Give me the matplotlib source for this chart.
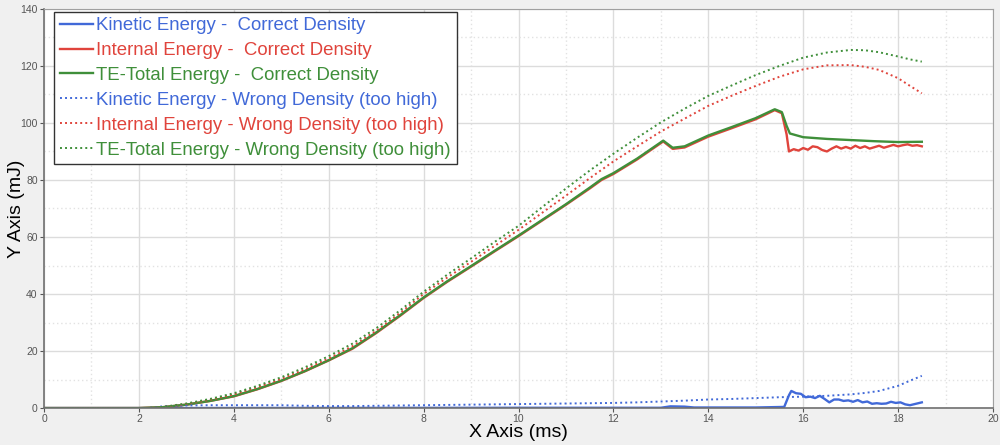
import matplotlib

matplotlib.use("Agg")
import matplotlib.pyplot as plt
from matplotlib.ticker import MultipleLocator


# Correct density, solid lines
t_total = [0.0, 2.0, 2.5, 3.0, 3.5, 4.0, 4.5, 5.0, 5.5, 6.0, 6.5, 7.0, 7.5, 8.0,
           8.5, 9.0, 9.5, 10.0, 10.5, 11.0, 11.5, 11.75, 12.0, 12.5, 13.05, 13.25,
           13.5, 14.0, 14.5, 15.0, 15.4, 15.55, 15.65, 15.72, 16.0, 16.5, 17.0,
           17.5, 18.0, 18.5]
total_correct = [0.0, 0.0, 0.3, 1.2, 2.5, 4.2, 6.7, 9.6, 13.0, 16.8, 21.0, 26.5,
                 32.5, 38.8, 44.5, 49.8, 55.2, 60.5, 66.0, 71.5, 77.3, 80.3, 82.4,
                 87.5, 93.8, 91.3, 91.8, 95.6, 98.6, 101.7, 104.8, 103.8, 99.0,
                 96.3, 95.0, 94.4, 94.0, 93.6, 93.3, 93.4]

t_internal = [0.0, 2.0, 2.5, 3.0, 3.5, 4.0, 4.5, 5.0, 5.5, 6.0, 6.5, 7.0, 7.5, 8.0,
              8.5, 9.0, 9.5, 10.0, 10.5, 11.0, 11.5, 11.75, 12.0, 12.5, 13.05, 13.25,
              13.5, 14.0, 14.5, 15.0, 15.4, 15.55, 15.65, 15.7, 15.8, 15.9, 16.0,
              16.1, 16.2, 16.3, 16.4, 16.5, 16.6, 16.7, 16.8, 16.9, 17.0, 17.1, 17.2,
              17.3, 17.4, 17.5, 17.6, 17.7, 17.8, 17.9, 18.0, 18.1, 18.2, 18.3, 18.4,
              18.5]
internal_correct = [0.0, 0.0, 0.3, 1.2, 2.5, 4.1, 6.6, 9.5, 12.9, 16.7, 20.8, 26.3,
                    32.3, 38.6, 44.3, 49.6, 55.0, 60.3, 65.8, 71.3, 77.0, 80.0, 82.1,
                    87.2, 93.5, 90.9, 91.4, 95.2, 98.2, 101.3, 104.5, 103.4, 96.0,
                    90.0, 90.8, 90.3, 91.2, 90.6, 91.8, 91.5, 90.5, 90.0, 91.0, 91.8,
                    91.0, 91.6, 91.0, 92.0, 91.2, 91.8, 91.0, 91.5, 92.0, 91.3, 91.8,
                    92.3, 91.8, 92.2, 92.5, 92.0, 92.2, 91.8]

t_kinetic = [0.0, 2.0, 10.0, 13.0, 13.2, 13.5, 13.7, 15.0, 15.6, 15.7, 15.75, 15.85,
             15.95, 16.05, 16.15, 16.25, 16.35, 16.45, 16.55, 16.65, 16.75, 16.85,
             16.95, 17.05, 17.15, 17.25, 17.35, 17.45, 17.55, 17.65, 17.75, 17.85,
             17.95, 18.05, 18.15, 18.25, 18.35, 18.5]
kinetic_correct = [0.0, 0.0, 0.1, 0.1, 0.6, 0.5, 0.2, 0.2, 0.4, 4.5, 6.0, 5.2, 5.0,
                   3.8, 4.0, 3.5, 4.3, 3.2, 2.0, 3.0, 3.0, 2.5, 2.7, 2.2, 2.8, 2.0,
                   2.3, 1.5, 1.7, 1.5, 1.6, 2.2, 1.8, 2.0, 1.3, 1.0, 1.4, 2.0]

# Wrong density (too high), dotted lines
t_wrong = [0.0, 2.2, 2.5, 3.0, 3.5, 4.0, 4.5, 5.0, 5.5, 6.0, 6.5, 7.0, 7.5, 8.0, 8.5,
           9.0, 9.5, 10.0, 10.5, 11.0, 11.5, 12.0, 12.5, 13.0, 13.5, 14.0, 14.5, 15.0,
           15.5, 16.0, 16.5, 17.0, 17.3, 17.6, 18.0, 18.25, 18.5]
total_wrong = [0.0, 0.0, 0.4, 1.6, 3.2, 5.2, 7.8, 10.8, 14.3, 18.2, 22.6, 28.0, 34.2,
               40.8, 46.8, 52.5, 58.3, 63.9, 70.5, 77.0, 83.3, 89.2, 94.8, 100.2,
               105.0, 109.5, 113.2, 116.8, 120.0, 122.9, 124.7, 125.6, 125.5, 124.8,
               123.3, 122.3, 121.5]
internal_wrong = [0.0, 0.0, 0.3, 1.4, 2.9, 4.8, 7.3, 10.2, 13.6, 17.4, 21.7, 27.1,
                  33.3, 40.0, 45.8, 51.3, 56.9, 62.5, 68.5, 74.5, 80.6, 86.5, 91.8,
                  97.0, 101.5, 106.0, 109.6, 113.0, 116.2, 118.8, 120.2, 120.3, 119.7,
                  118.6, 115.7, 113.0, 110.4]
kinetic_wrong = [0.0, 0.0, 0.6, 0.9, 1.0, 1.0, 1.0, 1.0, 0.8, 0.7, 0.7, 0.8, 0.9,
                 1.0, 1.1, 1.2, 1.3, 1.4, 1.5, 1.6, 1.7, 1.8, 2.0, 2.3, 2.6, 3.0,
                 3.2, 3.5, 3.8, 4.0, 4.3, 4.8, 5.3, 6.0, 7.8, 9.6, 11.3]

BLUE = "#4169d8"
RED = "#e0443c"
GREEN = "#3f8f3a"

plt.rcParams["font.family"] = ["Liberation Sans", "DejaVu Sans"]

fig = plt.figure(figsize=(10, 4.45), dpi=100, facecolor="#f0f0f0")
ax = fig.add_axes([0.044, 0.083, 0.949, 0.897])
ax.set_facecolor("white")

dot = (0, (1, 1.6))
ax.plot(t_kinetic, kinetic_correct, color=BLUE, lw=1.7, label="Kinetic Energy -  Correct Density")
ax.plot(t_internal, internal_correct, color=RED, lw=1.7, label="Internal Energy -  Correct Density")
ax.plot(t_total, total_correct, color=GREEN, lw=1.7, label="TE-Total Energy -  Correct Density")
ax.plot(t_wrong, kinetic_wrong, color=BLUE, lw=1.4, ls=dot, label="Kinetic Energy - Wrong Density (too high)")
ax.plot(t_wrong, internal_wrong, color=RED, lw=1.4, ls=dot, label="Internal Energy - Wrong Density (too high)")
ax.plot(t_wrong, total_wrong, color=GREEN, lw=1.4, ls=dot, label="TE-Total Energy - Wrong Density (too high)")

ax.set_xlim(0, 20)
ax.set_ylim(0, 140)
ax.xaxis.set_major_locator(MultipleLocator(2))
ax.xaxis.set_minor_locator(MultipleLocator(1))
ax.yaxis.set_major_locator(MultipleLocator(20))
ax.yaxis.set_minor_locator(MultipleLocator(10))
ax.grid(which="major", color="#dcdcdc", lw=1.0)
ax.grid(which="minor", color="#e2e2e2", lw=1.0, ls=(0, (1, 2)))
ax.set_axisbelow(True)
ax.tick_params(which="major", labelsize=7.5, length=3, colors="#555555", pad=1.5)
ax.tick_params(which="minor", length=0)
for side in ["left", "bottom"]:
    ax.spines[side].set_color("#707070")
    ax.spines[side].set_linewidth(1.2)
for side in ["top", "right"]:
    ax.spines[side].set_color("#a0a0a0")
    ax.spines[side].set_linewidth(0.8)

ax.set_xlabel("X Axis (ms)", fontsize=14, labelpad=0)
ax.set_ylabel("Y Axis (mJ)", fontsize=14)
ax.yaxis.set_label_coords(-0.02, 0.5)

leg = ax.legend(loc="upper left", bbox_to_anchor=(0.011, 0.993), borderaxespad=0,
                fontsize=13.4, fancybox=False, framealpha=1, edgecolor="#333333",
                handlelength=1.75, handletextpad=0.2, labelspacing=0.42,
                borderpad=0.3)
leg.get_frame().set_linewidth(1.0)
for text, color in zip(leg.get_texts(), [BLUE, RED, GREEN, BLUE, RED, GREEN]):
    text.set_color(color)

fig.savefig("out.png", dpi=100, facecolor=fig.get_facecolor())
